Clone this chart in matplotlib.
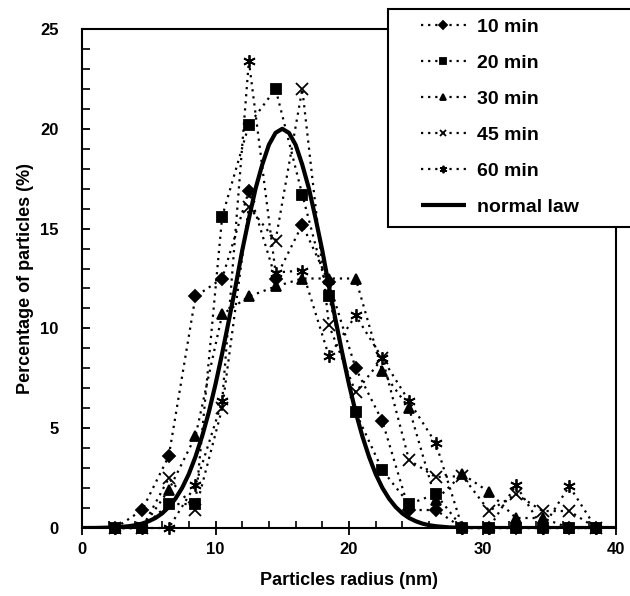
import matplotlib
matplotlib.use("Agg")
import matplotlib.pyplot as plt
from matplotlib.patches import Rectangle
from matplotlib.ticker import MultipleLocator

plt.rcParams['font.family'] = ['Liberation Sans', 'DejaVu Sans']

# ---- data ----
radius = [2.5, 4.5, 6.5, 8.5, 10.5, 12.5, 14.5, 16.5, 18.5, 20.5,
          22.5, 24.5, 26.5, 28.5, 30.5, 32.5, 34.5, 36.5, 38.5]
min10 = [0, 0.9, 3.6, 11.6, 12.5, 16.9, 12.5, 15.2, 12.3, 8.0,
         5.35, 0.9, 0.9, 0, 0, 0, 0, 0, 0]
min20 = [0, 0, 1.2, 1.2, 15.6, 20.2, 22.0, 16.7, 11.6, 5.8,
         2.9, 1.2, 1.7, 0, 0, 0, 0, 0, 0]
min30 = [0, 0, 1.9, 4.6, 10.7, 11.6, 12.1, 12.5, 12.5, 12.5,
         7.85, 6.0, 1.4, 2.7, 1.8, 0.5, 0.5, 0, 0]
min45 = [0, 0, 2.5, 0.9, 6.0, 16.1, 14.4, 22.0, 10.15, 6.8,
         8.5, 3.4, 2.55, 2.6, 0.85, 1.7, 0.85, 0.85, 0]
min60 = [0, 0, 0, 2.15, 6.35, 23.4, 12.8, 12.9, 8.6, 10.65,
         8.5, 6.35, 4.25, 0, 0, 2.15, 0, 2.1, 0]

normal_x = [0, 1, 2, 2.5, 3, 3.5, 4, 4.5, 5, 5.5, 6, 6.5, 7, 7.5,
            8, 8.5, 9, 9.5, 10, 10.5, 11, 11.5, 12, 12.5, 13, 13.5,
            14, 14.5, 15, 15.5, 16, 16.5, 17, 17.5, 18, 18.5, 19, 19.5,
            20, 20.5, 21, 21.5, 22, 22.5, 23, 23.5, 24, 24.5, 25, 25.5,
            26, 26.5, 27, 27.5, 28, 29, 40]
normal_y = [0, 0.003, 0.02, 0.03, 0.06, 0.09, 0.14, 0.22, 0.34, 0.50,
            0.73, 1.05, 1.47, 2.01, 2.7, 3.57, 4.6, 5.8, 7.2, 8.75,
            10.4, 12.1, 13.9, 15.5, 17.0, 18.2, 19.2, 19.8, 20.0, 19.8,
            19.2, 18.2, 17.0, 15.5, 13.9, 12.1, 10.4, 8.75, 7.2, 5.8,
            4.6, 3.57, 2.7, 2.01, 1.47, 1.05, 0.73, 0.50, 0.34, 0.22,
            0.14, 0.09, 0.06, 0.03, 0.02, 0, 0]

series = [("10 min", min10, "D", 6.5),
          ("20 min", min20, "s", 6.5),
          ("30 min", min30, "^", 7.5),
          ("45 min", min45, "x", 8),
          ("60 min", min60, (6, 2, 0), 9)]

W, H = 630, 596
fig = plt.figure(figsize=(W / 100, H / 100), dpi=100)
ax = fig.add_axes([82 / W, 1 - 528 / H, (616 - 82) / W, (528 - 29) / H])

handles = []
for label, vals, mk, ms in series:
    ln, = ax.plot(radius, vals, linestyle=(0, (1, 2.2)), linewidth=1.6,
                  color="black", marker=mk, markersize=ms,
                  markeredgewidth=1.3, label=label, clip_on=False)
    handles.append(ln)
nl, = ax.plot(normal_x, normal_y, color="black",
              linewidth=3, solid_capstyle="butt", label="normal law")
handles.append(nl)

ax.set_xlim(0, 40)
ax.set_ylim(0, 25)
ax.xaxis.set_major_locator(MultipleLocator(10))
ax.xaxis.set_minor_locator(MultipleLocator(2))
ax.yaxis.set_major_locator(MultipleLocator(5))
ax.yaxis.set_minor_locator(MultipleLocator(1))
ax.tick_params(axis="x", which="major", direction="inout", length=10,
               width=1.3, labelsize=12, pad=5)
ax.tick_params(axis="x", which="minor", direction="in", length=5, width=1.2)
ax.tick_params(axis="y", which="major", direction="in", length=6,
               width=1.3, labelsize=12, pad=17)
ax.tick_params(axis="y", which="minor", direction="in", length=6, width=1.2)
for lab in ax.get_xticklabels() + ax.get_yticklabels():
    lab.set_fontweight("bold")
for sp in ax.spines.values():
    sp.set_linewidth(1.5)

ax.set_xlabel("Particles radius (nm)", fontsize=13, fontweight="bold",
              labelpad=11)
ax.set_ylabel("Percentage of particles (%)", fontsize=13, fontweight="bold",
              labelpad=4)

# legend box extending beyond the figure's right edge
fig.patches.append(Rectangle((388 / W, 1 - 227 / H), (660 - 388) / W,
                             (227 - 9) / H, transform=fig.transFigure,
                             facecolor="white", edgecolor="black",
                             linewidth=1.5, zorder=5))
leg = fig.legend(handles=handles, loc="upper left",
                 bbox_to_anchor=(421 / W, 1 - 18 / H),
                 frameon=False, borderpad=0, borderaxespad=0,
                 handlelength=2.3, handletextpad=0.6, labelspacing=0.95,
                 markerscale=0.6, prop={"size": 14, "weight": "bold"})
leg.set_zorder(6)

fig.savefig("out.png", dpi=100)
